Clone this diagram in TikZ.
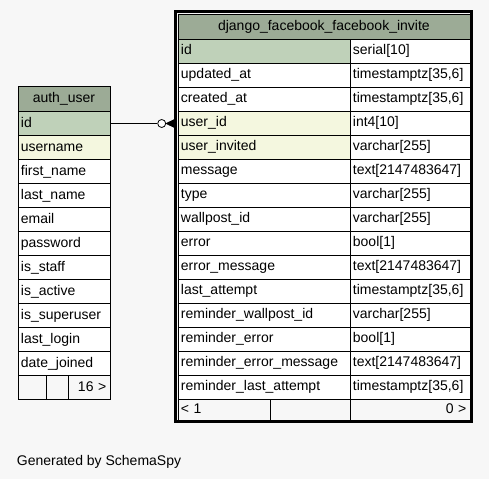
\documentclass[tikz,border=0pt]{standalone}
\usepackage{fontspec}
\setmainfont{Liberation Sans}
\definecolor{bgc}{HTML}{F7F7F7}
\definecolor{hdr}{HTML}{9CAB96}
\definecolor{pkc}{HTML}{BFD1B9}
\definecolor{fkc}{HTML}{F4F7DF}
\begin{document}
\begin{tikzpicture}[x=1pt,y=-1pt,
  cell/.style={draw=black, line width=0.8pt, fill=white, anchor=north west,
    inner xsep=3pt, inner ysep=0pt, minimum height=24pt,
    text height=10.5pt, text depth=2.5pt, align=left,
    font=\fontsize{14}{16}\selectfont},
  lcol/.style={cell, text width=166pt},
  rcol/.style={cell, text width=114pt},
  aucol/.style={cell, text width=86pt},
  conn/.style={draw=black, line width=0.8pt},
]
\useasboundingbox[fill=bgc] (0,0) rectangle (489,479);

% ---------- django_facebook_facebook_invite ----------
\node[cell, fill=hdr, text width=286pt, align=center, minimum height=25pt] (fih) at (177.5,13.5) {django\_facebook\_facebook\_invite};
\foreach \n/\t/\c [count=\i from 0] in {
  id/serial[10]/pkc,
  updated\_at/{timestamptz[35,6]}/white,
  created\_at/{timestamptz[35,6]}/white,
  user\_id/int4[10]/fkc,
  user\_invited/varchar[255]/fkc,
  message/text[2147483647]/white,
  type/varchar[255]/white,
  wallpost\_id/varchar[255]/white,
  error/bool[1]/white,
  error\_message/text[2147483647]/white,
  last\_attempt/{timestamptz[35,6]}/white,
  reminder\_wallpost\_id/varchar[255]/white,
  reminder\_error/bool[1]/white,
  reminder\_error\_message/text[2147483647]/white,
  reminder\_last\_attempt/{timestamptz[35,6]}/white}
{
  \node[lcol, fill=\c] (fi\i n) at (177.5,38.5+24*\i) {\n};
  \node[rcol] (fi\i t) at (349.5,38.5+24*\i) {\t};
}
\node[cell, fill=bgc, text width=86pt, minimum height=21.5pt] (fif1) at (177.5,398.5) {< 1};
\node[cell, fill=bgc, text width=74pt, minimum height=21.5pt] (fif2) at (269.5,398.5) {};
\node[cell, fill=bgc, text width=113pt, inner xsep=3.5pt, align=right, minimum height=21.5pt] (fif3) at (349.5,398.5) {0 >};
\draw[line width=3pt] (175.8,11) rectangle (471.3,421.5);

% ---------- auth_user ----------
\node[cell, fill=hdr, text width=86pt, align=center, minimum height=25pt] (auh) at (17.5,86) {auth\_user};
\foreach \n/\c [count=\i from 0] in {
  id/pkc, username/fkc, first\_name/white, last\_name/white, email/white,
  password/white, is\_staff/white, is\_active/white, is\_superuser/white,
  last\_login/white, date\_joined/white}
{
  \node[aucol, fill=\c] (au\i) at (17.5,111+24*\i) {\n};
}
\node[cell, fill=bgc, text width=22pt] (auf1) at (17.5,375) {};
\node[cell, fill=bgc, text width=16pt] (auf2) at (45.5,375) {};
\node[cell, fill=bgc, text width=35pt, inner xsep=3.5pt, align=right] (auf3) at (67.5,375) {16 >};

% ---------- relationship ----------
\node[circle, draw=black, line width=0.8pt, fill=white, minimum size=8pt, inner sep=0pt] (circ) at (161.7,123.5) {};
\draw[conn] (au0.east |- circ.west) -- (circ.west);
\coordinate (cft) at (166.3,123.5);
\coordinate (cf1) at (174.5,119.5);
\coordinate (cf2) at (174.5,123.5);
\coordinate (cf3) at (174.5,127.5);
\fill[black] (cft) -- (cf1) -- (cf3) -- cycle;
\draw[conn] (cft) -- (cf1) (cft) -- (cf2) (cft) -- (cf3);

% ---------- footer text ----------
\node[anchor=base west, inner sep=0pt, font=\fontsize{14}{16}\selectfont] (gen) at (16.7,465) {Generated by SchemaSpy};
\end{tikzpicture}
\end{document}
